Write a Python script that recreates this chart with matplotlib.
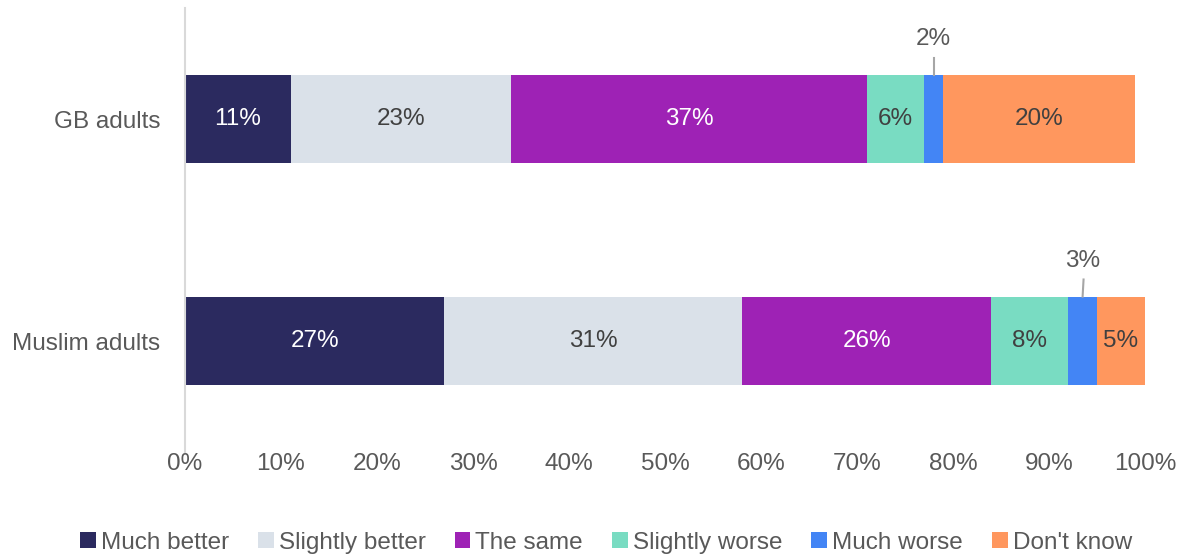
import numpy as np
import matplotlib.pyplot as plt

plt.rcParams['font.family'] = ['Liberation Sans', 'DejaVu Sans']

groups = ['Muslim adults', 'GB adults']
answers = ['Much better', 'Slightly better', 'The same', 'Slightly worse', 'Much worse', "Don't know"]
gb = [11, 23, 37, 6, 2, 20]
muslim = [27, 31, 26, 8, 3, 5]
colours = ['#2b2a5f', '#dae1e9', '#9e22b5', '#79dcc2', '#4385f5', '#ff975e']
label_colours = ['white', '#404040', 'white', '#404040', '#404040', '#404040']
grey = '#595959'
fs = 17.5

values = np.array([muslim, gb])

fig = plt.figure(figsize=(11.88, 5.56), dpi=100)
ax = fig.add_axes([185/1188, 1 - 452/556, 960/1188, 444/556])

left = np.zeros(len(groups))
for j, name in enumerate(answers):
    w = values[:, j]
    ax.barh(range(len(groups)), w, left=left, height=0.4, color=colours[j], label=name)
    for i in range(len(groups)):
        cx = left[i] + w[i] / 2
        if w[i] <= 3:
            # small segments get their label above with a short leader line
            ax.plot([cx, cx + 0.1 * (i == 0)], [i + 0.2, i + 0.277], color='#a6a6a6', lw=1.5)
            ax.text(cx, i + 0.36, f'{w[i]}%', ha='center', va='center', fontsize=fs, color=grey)
        else:
            ax.text(cx, i, f'{w[i]}%', ha='center', va='center', fontsize=fs,
                    color=label_colours[j])
    left += w

ax.set_xlim(0, 100)
ax.set_ylim(-0.5, 1.5)
ax.set_yticks(range(len(groups)))
ax.set_yticklabels(groups, fontsize=fs, color=grey)
ax.set_xticks(range(0, 101, 10))
ax.set_xticklabels([f'{t}%' for t in range(0, 101, 10)], fontsize=fs, color=grey)
ax.tick_params(length=0, pad=18, axis='y')
ax.tick_params(length=0, pad=1, axis='x')
for s in ['top', 'right', 'bottom']:
    ax.spines[s].set_visible(False)
ax.spines['left'].set_color('#d9d9d9')
ax.spines['left'].set_linewidth(1.5)

fig.legend(loc='lower center', bbox_to_anchor=(0.51, -0.035), ncol=6, frameon=False,
           fontsize=fs, labelcolor=grey, handlelength=0.65, handleheight=0.65,
           handletextpad=0.2, columnspacing=1.2)

fig.savefig('out.png', dpi=100)
